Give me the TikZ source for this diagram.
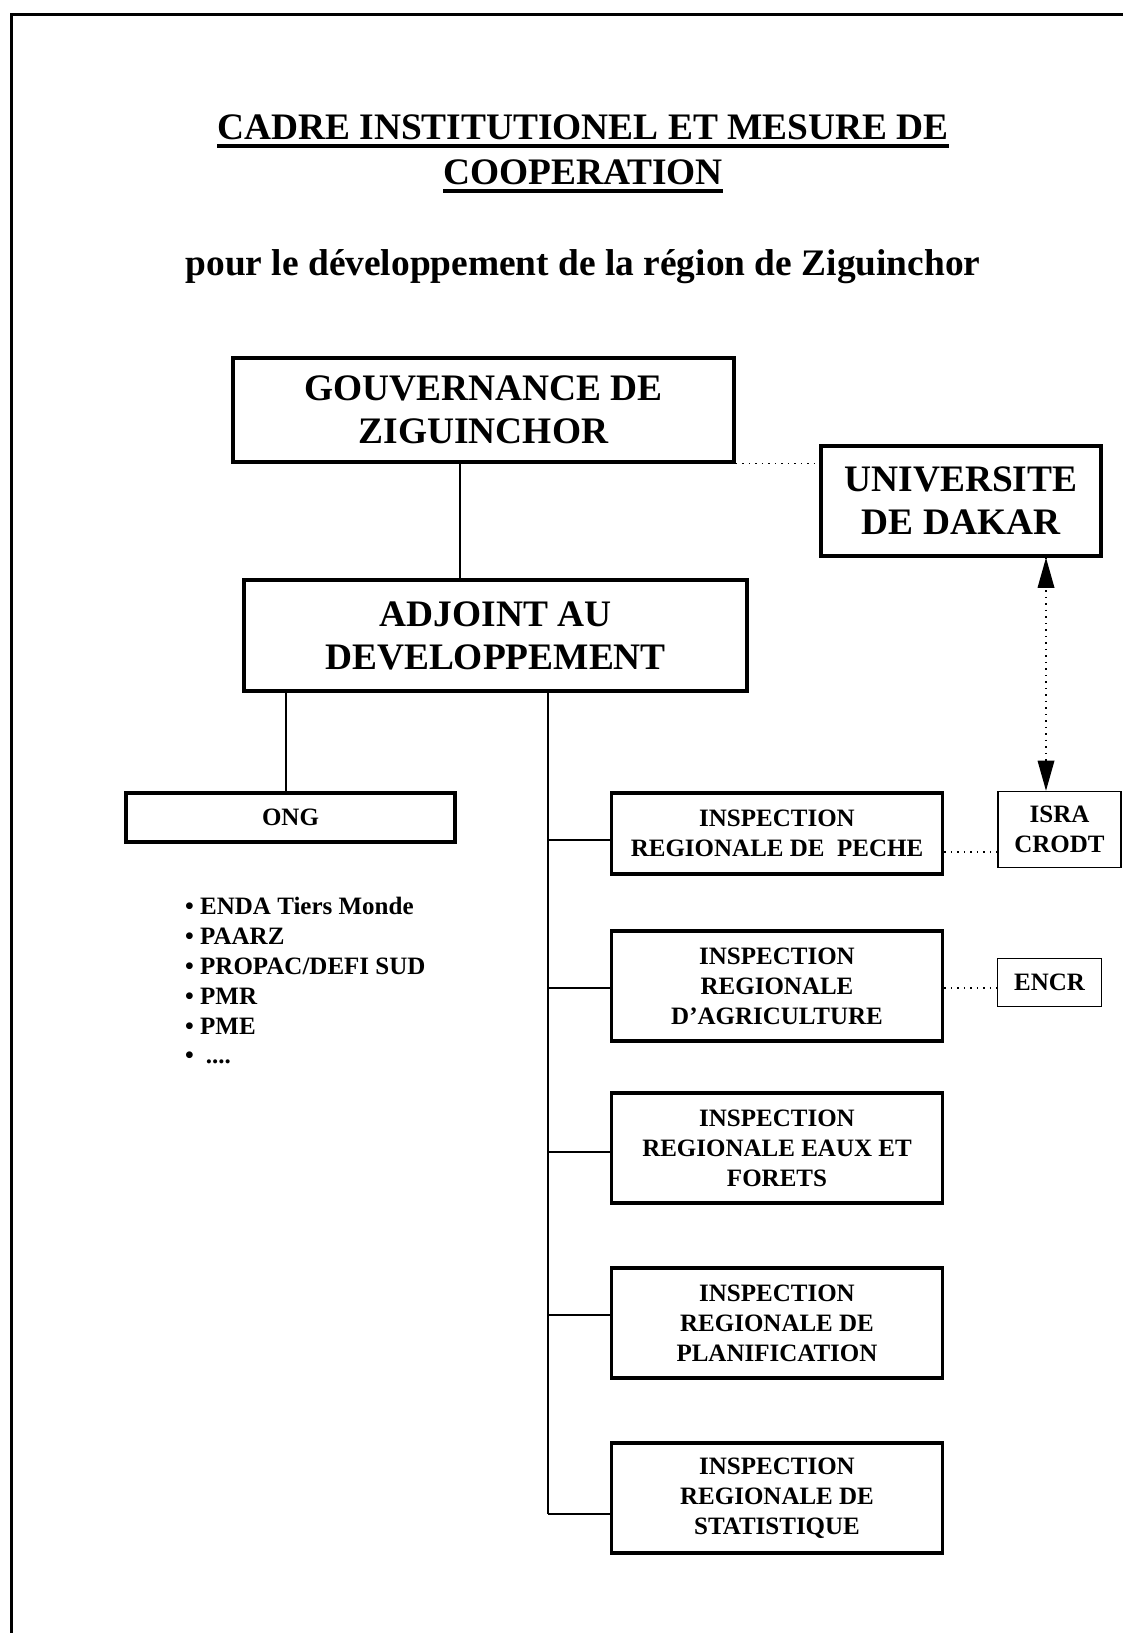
\documentclass[tikz,border=0pt]{standalone}
\usepackage{fontspec}
\setmainfont{Liberation Serif}
\usetikzlibrary{arrows.meta}
\newcommand\myul[1]{\setbox0=\hbox{#1}\leavevmode\rlap{\raisebox{-8.7pt}{\rule{\wd0}{3.4pt}}}\box0}
\tikzset{
  bigfont/.style={font=\fontsize{37.4}{43}\selectfont\bfseries},
  smallfont/.style={font=\fontsize{25}{30}\selectfont\bfseries},
  bigbox/.style={draw, line width=3.5pt, bigfont, align=center, inner sep=0pt},
  inspbox/.style={draw, line width=3.5pt, smallfont, align=center, inner sep=0pt, minimum width=331pt, minimum height=110pt},
  thinbox/.style={draw, line width=1.6pt, smallfont, align=center, inner sep=0pt},
  conn/.style={line width=1.6pt},
  dotline/.style={line width=1.3pt, dash pattern=on 1.5pt off 5pt},
  listitem/.style={smallfont, anchor=base west, inner sep=0pt}
}
\begin{document}
\begin{tikzpicture}[x=1pt, y=-1pt]
\useasboundingbox (0,0) rectangle (1123,1633);
% page frame
\draw[line width=3pt] (11,1633) -- (11,14) -- (1123,14);

% titles
\node[bigfont, anchor=base, inner sep=0pt] (t1) at (583,139) {\myul{CADRE INSTITUTIONEL ET MESURE DE}};
\node[bigfont, anchor=base, inner sep=0pt] (t2) at (583,184) {\myul{COOPERATION}};
\node[bigfont, anchor=base, inner sep=0pt] (t3) at (583,275) {pour le développement de la région de Ziguinchor};

% main boxes
\node[bigbox, minimum width=501pt, minimum height=104pt] (gouv) at (483.5,410) {GOUVERNANCE DE\\ZIGUINCHOR};
\node[bigbox, minimum width=280pt, minimum height=110pt] (univ) at (961,501) {UNIVERSITE\\DE DAKAR};
\node[bigbox, minimum width=503pt, minimum height=111pt] (adj) at (495.5,635.5) {ADJOINT AU\\DEVELOPPEMENT};
\node[draw, line width=3.5pt, smallfont, inner sep=0pt, minimum width=329pt, minimum height=49pt] (ong) at (290.5,817.5) {ONG};

% inspection boxes
\node[inspbox, minimum height=81pt] (peche) at (777,833.5) {INSPECTION\\REGIONALE DE\ \ PECHE};
\node[inspbox] (agri) at (777,986) {INSPECTION\\REGIONALE\\D’AGRICULTURE};
\node[inspbox] (eaux) at (777,1148) {INSPECTION\\REGIONALE EAUX ET\\FORETS};
\node[inspbox] (plan) at (777,1323) {INSPECTION\\REGIONALE DE\\PLANIFICATION};
\node[inspbox] (stat) at (777,1498) {INSPECTION\\REGIONALE DE\\STATISTIQUE};

% thin boxes
\node[thinbox, minimum width=123pt, minimum height=76pt] (isra) at (1059.5,829.5) {ISRA\\CRODT};
\node[thinbox, minimum width=104pt, minimum height=48pt] (encr) at (1049.5,982.5) {ENCR};

% list
\node[listitem] (l1) at (185,914) {• ENDA Tiers Monde};
\node[listitem] (l2) at (185,944) {• PAARZ};
\node[listitem] (l3) at (185,974) {• PROPAC/DEFI SUD};
\node[listitem] (l4) at (185,1004) {• PMR};
\node[listitem] (l5) at (185,1034) {• PME};
\node[listitem] (l6) at (185,1063) {•\hspace{12pt}....};

% solid connectors
\coordinate (gx) at (460,0);
\draw[conn] (gouv.south -| gx) -- (adj.north -| gx);
\coordinate (ox) at (286,0);
\draw[conn] (adj.south -| ox) -- (ong.north -| ox);
\coordinate (tx) at (548,0);
\coordinate (b1) at (548,840);
\coordinate (b2) at (548,988);
\coordinate (b3) at (548,1152);
\coordinate (b4) at (548,1315);
\coordinate (b5) at (548,1514);
\draw[conn] (adj.south -| tx) -- (b5);
\draw[conn] (b1) -- (b1 -| peche.west);
\draw[conn] (b2) -- (b2 -| agri.west);
\draw[conn] (b3) -- (b3 -| eaux.west);
\draw[conn] (b4) -- (b4 -| plan.west);
\draw[conn] (b5) -- (b5 -| stat.west);

% dotted connectors
\draw[dotline] (gouv.south east) -- (gouv.south east -| univ.west);
\coordinate (d1) at (0,852);
\draw[dotline] (d1 -| peche.east) -- (d1 -| isra.west);
\coordinate (d2) at (0,988);
\draw[dotline] (d2 -| agri.east) -- (d2 -| encr.west);

% double arrow
\coordinate (ax) at (1046,0);
\draw[dotline] (univ.south -| ax) -- (isra.north -| ax);
\fill (univ.south -| ax) -- ++(-8.5,30) -- ++(17,0) -- cycle;
\fill (isra.north -| ax) -- ++(-8.5,-30) -- ++(17,0) -- cycle;
\end{tikzpicture}
\end{document}
